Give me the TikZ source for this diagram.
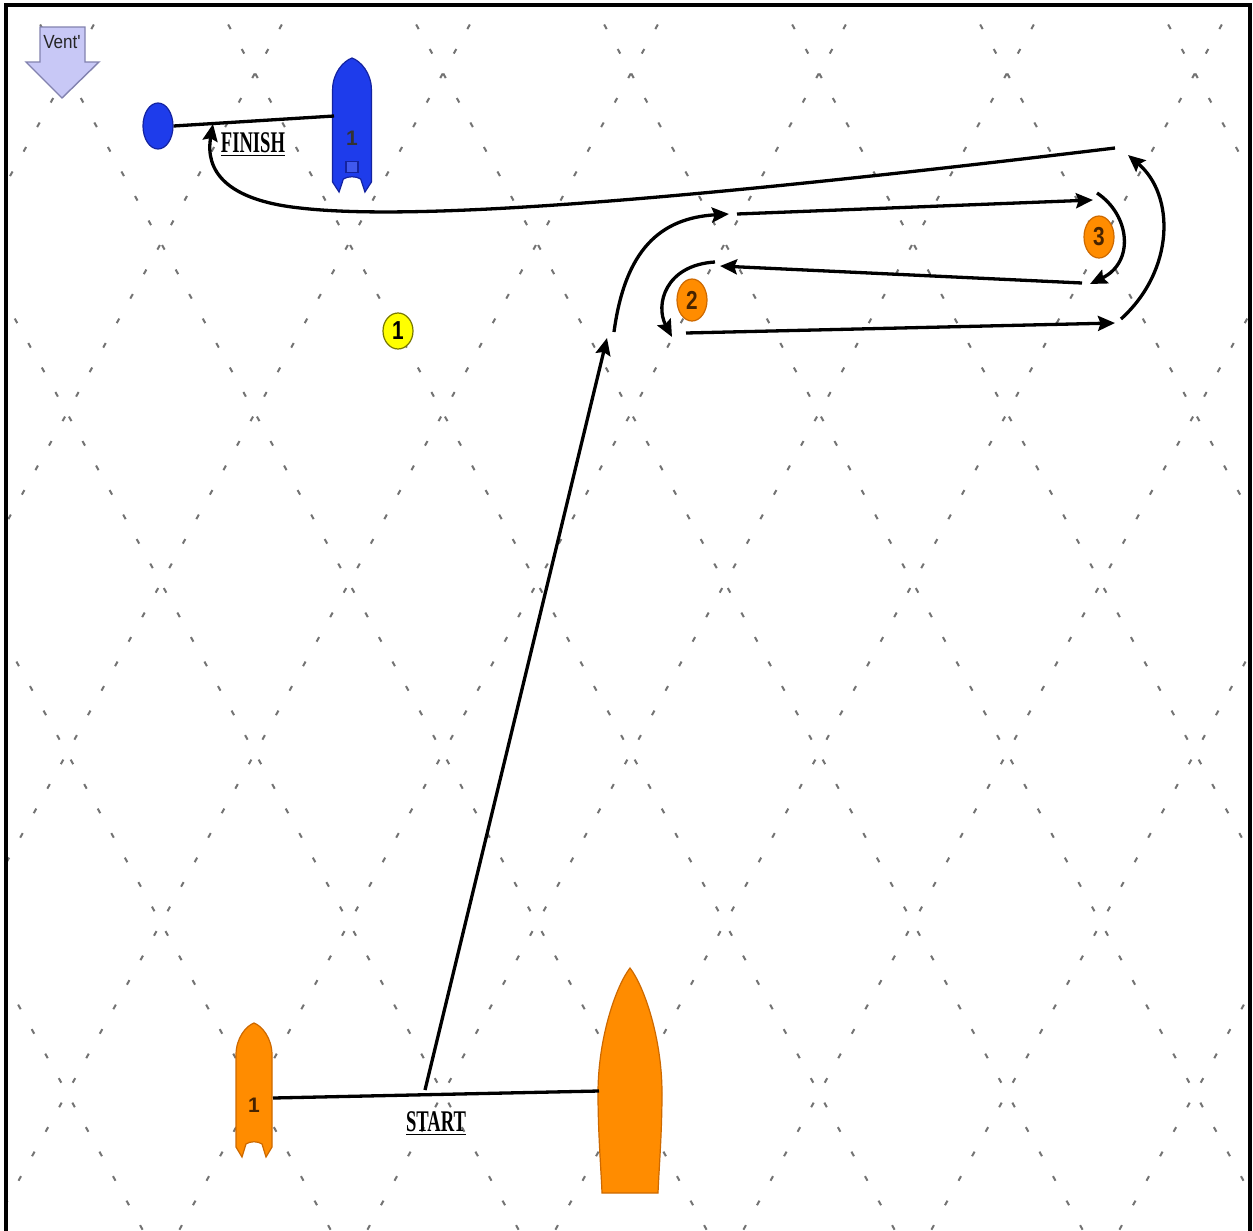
\documentclass[tikz,border=0pt]{standalone}
\usepackage{fontspec}
\setmainfont{Liberation Serif}
\setsansfont{Liberation Sans}
\usetikzlibrary{arrows.meta,shapes.geometric}
\definecolor{hullorange}{RGB}{255,140,0}
\definecolor{hulledge}{RGB}{205,105,0}
\definecolor{finishblue}{RGB}{30,60,235}
\definecolor{finishedge}{RGB}{20,35,160}
\definecolor{windfill}{RGB}{200,200,246}
\definecolor{windedge}{RGB}{130,130,175}
\definecolor{markyellow}{RGB}{255,255,0}
\definecolor{yellowedge}{RGB}{120,120,0}
\definecolor{marktext}{RGB}{70,35,0}

\begin{document}
\begin{tikzpicture}[x=0.5pt,y=-0.5pt,
  lattice/.style={draw=black!55, line width=1pt, dash pattern=on 2.6pt off 11.4pt},
  frameline/.style={line width=1.6pt},
  course/.style={line width=1.65pt, -{Stealth[length=8.5pt,width=7.5pt,inset=1.3pt]}},
  bar/.style={line width=1.65pt},
  roundmark/.style={ellipse, line width=0.6pt, inner sep=0pt,
    minimum width=15pt, minimum height=21pt,
    font=\sffamily\bfseries\fontsize{13}{13}\selectfont},
  orangemark/.style={roundmark, fill=hullorange, draw=hulledge, text=marktext},
  yellowmark/.style={roundmark, fill=markyellow, draw=yellowedge, text=black,
    minimum height=18pt},
  linelabel/.style={inner sep=0pt, font=\bfseries\fontsize{15}{15}\selectfont},
  hullno/.style={inner sep=0pt, font=\sffamily\bfseries\fontsize{10.5}{10.5}\selectfont},
  dinghy/.pic={
    \path[pic actions] (0,0) .. controls (8,3) and (18,15) .. (18,32)
      -- (18,124) -- (12,134) -- (8,121) .. controls (4,118) and (-4,118) .. (-8,121)
      -- (-12,134) -- (-18,124) -- (-18,32) .. controls (-18,15) and (-8,3) .. (0,0) -- cycle;
  },
  committee/.pic={
    \path[pic actions] (0,0) .. controls (14,18) and (32,70) .. (32,125)
      .. controls (32,165) and (29,200) .. (28,225) -- (-28,225)
      .. controls (-29,200) and (-32,165) .. (-32,125)
      .. controls (-32,70) and (-14,18) .. (0,0) -- cycle;
  }
]
\useasboundingbox (0,0) rectangle (1253,1231);
\fill[white] (0,0) rectangle (1253,1231);

% dotted diamond lattice of the water
\begin{scope}
  \clip (6,6) rectangle (1250,1231);
  \foreach \k in {-4,...,9} {
    \draw[lattice] ({-161.4+188*\k},0) -- ({519.3+188*\k},1231);
    \draw[lattice] ({295.4+188*\k},0) -- ({-385.3+188*\k},1231);
  }
\end{scope}

% frame
\draw[frameline] (6,1240) -- (6,5) -- (1250,5) -- (1250,1240);

% wind indicator
\draw[fill=windfill, draw=windedge, line width=0.7pt]
  (40,27) -- (85,27) -- (85,62) -- (99,62) -- (62,98) -- (26,62) -- (40,62) -- cycle;
\node[inner sep=0pt, font=\sffamily\fontsize{9.5}{9.5}\selectfont, text=black!85] (wind) at (62,42) {\scalebox{0.9}[1]{Vent\textquotesingle}};

% finish line: pin mark and blue boat
\node[ellipse, fill=finishblue, draw=finishedge, line width=0.6pt, inner sep=0pt,
  minimum width=15pt, minimum height=23pt] (finpin) at (158,126) {};
\pic[xscale=1.08, fill=finishblue, draw=finishedge, line width=0.6pt] at (352,58) {dinghy};
\node[hullno, text=black!80] (finno) at (352,138) {1};
\node[draw=finishedge, fill=finishblue!85!white, line width=0.7pt, minimum width=6pt,
  minimum height=5.5pt, inner sep=0pt] (finhatch) at (352,167) {};
\coordinate (finboat) at (334,116);
\draw[bar] (finpin.east) -- (finboat);
\node[linelabel] (finish) at (253,145) {\scalebox{0.62}[1]{\underline{FINISH}}};

% start line: pin boat and committee boat
\pic[fill=hullorange, draw=hulledge, line width=0.6pt] at (254,1023) {dinghy};
\node[hullno, text=marktext] (startno) at (254,1105) {1};
\pic[fill=hullorange, draw=hulledge, line width=0.6pt] at (630,968) {committee};
\coordinate (startpin) at (273,1098);
\coordinate (startrc) at (599,1091);
\draw[bar] (startpin) -- (startrc);
\node[linelabel] (start) at (436,1124) {\scalebox{0.62}[1]{\underline{START}}};

% marks
\node[yellowmark] (m1) at (398,331) {\scalebox{0.8}[1]{1}};
\node[orangemark] (m2) at (692,300) {\scalebox{0.8}[1]{2}};
\node[orangemark] (m3) at (1099,237) {\scalebox{0.8}[1]{3}};

% course waypoints
\coordinate (a0) at (425,1090);  \coordinate (a1) at (607,338);
\coordinate (b0) at (614,332);   \coordinate (b1) at (729,214);
\coordinate (c0) at (737,214);   \coordinate (c1) at (1093,200);
\coordinate (d0) at (1097,193);  \coordinate (d1) at (1090,284);
\coordinate (e0) at (1082,283);  \coordinate (e1) at (720,266);
\coordinate (f0) at (715,262);   \coordinate (f1) at (672,337);
\coordinate (g0) at (686,333);   \coordinate (g1) at (1115,323);
\coordinate (h0) at (1121,319);  \coordinate (h1) at (1128,155);
\coordinate (i0) at (1115,148);  \coordinate (i1) at (213,124);

% course legs
\draw[course] (a0) -- (a1);
\draw[course] (b0) .. controls (625,250) and (660,218) .. (b1);
\draw[course] (c0) -- (c1);
\draw[course] (d0) .. controls (1130,215) and (1135,262) .. (d1);
\draw[course] (e0) -- (e1);
\draw[course] (f0) .. controls (665,265) and (655,305) .. (f1);
\draw[course] (g0) -- (g1);
\draw[course] (h0) .. controls (1175,270) and (1175,195) .. (h1);
\draw[course] (i0) .. controls (700,198) and (420,222) .. (300,208)
  .. controls (225,200) and (205,170) .. (i1);
\end{tikzpicture}
\end{document}
